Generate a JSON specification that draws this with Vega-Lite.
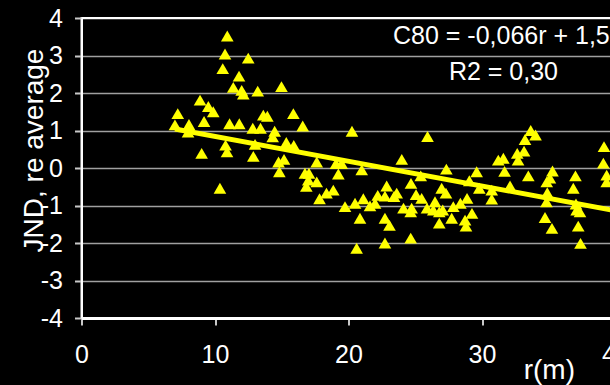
{
  "$schema": "https://vega.github.io/schema/vega-lite/v6.json",
  "width": 534,
  "height": 300,
  "autosize": "none",
  "padding": {"left": 81.5, "top": 18, "right": 0, "bottom": 67},
  "background": "black",
  "config": {"view": {"stroke": "white", "strokeWidth": 2}, "font": "Liberation Sans"},
  "datasets": {
    "pts": [
      {"r":7.00,"v":1.15},{"r":7.21,"v":1.45},{"r":8.05,"v":1.16},{"r":7.98,"v":0.96},{"r":8.88,"v":1.81},
      {"r":9.18,"v":1.24},{"r":9.00,"v":0.39},{"r":9.50,"v":1.64},{"r":9.87,"v":1.50},{"r":10.37,"v":-0.54},
      {"r":10.58,"v":2.65},{"r":10.75,"v":3.04},{"r":10.92,"v":3.52},{"r":10.79,"v":0.61},{"r":10.90,"v":0.43},
      {"r":11.09,"v":1.18},{"r":11.37,"v":2.15},{"r":11.80,"v":2.45},{"r":11.82,"v":1.18},{"r":12.00,"v":2.07},
      {"r":12.12,"v":1.97},{"r":12.49,"v":2.93},{"r":12.83,"v":1.06},{"r":13.00,"v":0.63},{"r":12.87,"v":0.31},
      {"r":13.20,"v":2.05},{"r":13.41,"v":1.06},{"r":13.62,"v":1.41},{"r":13.92,"v":1.38},{"r":14.32,"v":0.83},
      {"r":14.47,"v":0.98},{"r":14.76,"v":0.16},{"r":14.82,"v":-0.10},{"r":14.98,"v":2.17},{"r":15.17,"v":0.23},
      {"r":15.34,"v":0.68},{"r":15.87,"v":1.45},{"r":15.90,"v":0.60},{"r":16.57,"v":1.12},{"r":16.74,"v":-0.14},
      {"r":17.04,"v":-0.14},{"r":16.99,"v":-0.32},{"r":16.84,"v":-0.49},{"r":17.62,"v":0.16},{"r":17.62,"v":-0.37},
      {"r":17.83,"v":-0.82},{"r":18.35,"v":-0.67},{"r":18.86,"v":-0.59},{"r":19.06,"v":0.12},{"r":19.49,"v":0.12},
      {"r":19.24,"v":-0.16},{"r":19.74,"v":-1.03},{"r":20.26,"v":0.98},{"r":20.49,"v":-0.94},{"r":20.61,"v":-2.14},
      {"r":20.86,"v":-1.34},{"r":20.99,"v":-0.05},{"r":21.11,"v":-0.82},{"r":21.61,"v":-1.01},{"r":21.99,"v":-0.94},
      {"r":22.19,"v":-0.73},{"r":22.73,"v":-1.34},{"r":23.07,"v":-1.53},{"r":22.73,"v":-2.00},{"r":22.86,"v":-0.48},
      {"r":22.73,"v":-0.75},{"r":23.61,"v":-0.67},{"r":23.41,"v":-0.76},{"r":23.99,"v":0.23},{"r":24.12,"v":-1.07},
      {"r":24.68,"v":-0.41},{"r":24.66,"v":-1.87},{"r":24.73,"v":-1.07},{"r":24.66,"v":-1.17},{"r":25.06,"v":-0.71},
      {"r":25.41,"v":-0.21},{"r":25.48,"v":-0.81},{"r":25.92,"v":0.84},{"r":25.88,"v":-1.07},{"r":26.48,"v":-0.90},
      {"r":26.35,"v":-1.12},{"r":26.80,"v":-1.17},{"r":26.80,"v":-1.47},{"r":26.98,"v":-0.54},{"r":27.30,"v":-0.67},
      {"r":27.33,"v":-0.03},{"r":27.06,"v":-1.12},{"r":27.73,"v":-1.34},{"r":27.85,"v":-1.03},{"r":28.38,"v":-0.94},
      {"r":28.88,"v":-0.81},{"r":29.05,"v":-0.34},{"r":29.25,"v":-1.21},{"r":28.73,"v":-1.39},{"r":28.80,"v":-1.55},
      {"r":29.60,"v":-0.10},{"r":29.80,"v":-0.54},{"r":30.73,"v":-0.59},{"r":30.73,"v":-0.83},{"r":31.22,"v":0.21},
      {"r":31.60,"v":0.26},{"r":31.69,"v":-0.09},{"r":32.10,"v":-0.48},{"r":32.64,"v":0.39},{"r":32.70,"v":0.21},
      {"r":33.15,"v":0.45},{"r":33.22,"v":0.76},{"r":33.65,"v":1.00},{"r":34.01,"v":0.88},{"r":33.47,"v":-0.21},
      {"r":34.85,"v":-0.37},{"r":35.09,"v":-0.27},{"r":35.28,"v":-0.08},{"r":34.89,"v":-0.66},{"r":34.83,"v":-0.90},
      {"r":34.72,"v":-1.32},{"r":35.24,"v":-1.61},{"r":37.00,"v":-0.21},{"r":36.84,"v":-0.54},{"r":37.04,"v":-0.96},
      {"r":37.09,"v":-1.12},{"r":37.34,"v":-1.17},{"r":37.21,"v":-1.55},{"r":37.38,"v":-2.01},{"r":39.14,"v":0.57},
      {"r":39.09,"v":0.13},{"r":39.34,"v":-0.19},{"r":39.34,"v":-0.37}
    ],
    "trend": [{"r":7,"v":1.04},{"r":40,"v":-1.14}],
    "notes": [
      {"r":23.33,"v":3.31,"label":"C80 = -0,066r + 1,5"},
      {"r":27.52,"v":2.35,"label":"R2 = 0,30"}
    ]
  },
  "encoding": {
    "x": {
      "field": "r", "type": "quantitative",
      "scale": {"domain": [0, 40], "nice": false, "zero": false},
      "axis": {
        "values": [0, 10, 20, 30, 40], "grid": false,
        "labelExpr": "'' + datum.value",
        "domainColor": "white", "domainWidth": 3,
        "tickColor": "#c8c8c8", "tickWidth": 2, "tickSize": 7,
        "labelColor": "white", "labelFontSize": 25, "labelFont": "Liberation Sans", "labelPadding": 17,
        "labelFlush": false, "labelOverlap": false,
        "title": "r(m)", "titleColor": "white", "titleFontSize": 28, "titleFont": "Liberation Sans", "titleFontWeight": "normal",
        "titleX": 493, "titleY": 60, "titleAlign": "right", "titleBaseline": "alphabetic"
      }
    },
    "y": {
      "field": "v", "type": "quantitative",
      "scale": {"domain": [-4, 4], "nice": false, "zero": false},
      "axis": {
        "values": [-4, -3, -2, -1, 0, 1, 2, 3, 4], "grid": true,
        "labelExpr": "'' + datum.value",
        "gridColor": {"condition": {"test": "datum.value == 4", "value": "white"}, "value": "#a0a0a0"},
        "gridWidth": 1.5,
        "domainColor": "white", "domainWidth": 2,
        "tickColor": "#c8c8c8", "tickWidth": 2, "tickSize": 7,
        "labelColor": "white", "labelFontSize": 25, "labelFont": "Liberation Sans", "labelPadding": 12,
        "labelFlush": false, "labelOverlap": false,
        "title": "JND, re average", "titleColor": "white", "titleFontSize": 28, "titleFont": "Liberation Sans", "titleFontWeight": "normal",
        "titleAngle": -90, "titleX": -39.5, "titleY": 132, "titleAlign": "center", "titleBaseline": "alphabetic"
      }
    }
  },
  "layer": [
    {
      "data": {"name": "pts"},
      "mark": {"type": "point", "shape": "triangle-up", "filled": true, "color": "#ffff00", "opacity": 1, "size": 160}
    },
    {
      "data": {"name": "trend"},
      "mark": {"type": "line", "color": "#ffff00", "strokeWidth": 5}
    },
    {
      "data": {"name": "notes"},
      "mark": {"type": "text", "color": "white", "fontSize": 25, "font": "Liberation Sans", "align": "left", "baseline": "alphabetic"},
      "encoding": {"text": {"field": "label"}}
    }
  ]
}
